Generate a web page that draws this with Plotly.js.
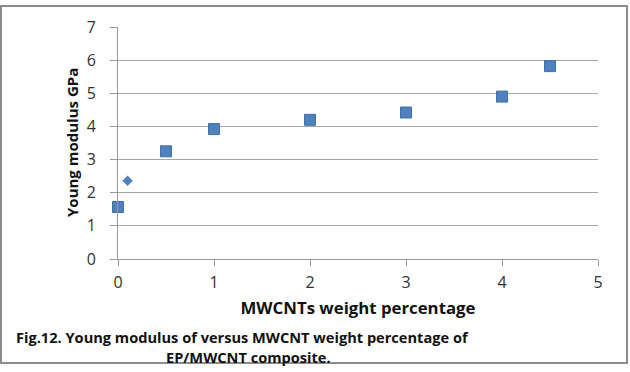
<!DOCTYPE html>
<html>
<head>
<meta charset="utf-8">
<script src="https://cdn.plot.ly/plotly-3.0.1.min.js"></script>
<style>
html,body{margin:0;padding:0;background:#fff;}
#chart{width:630px;height:372px;}
</style>
</head>
<body>
<div id="chart"></div>
<script>
// Data
const squareX = [0, 0.5, 1, 2, 3, 4, 4.5];
const squareY = [1.57, 3.25, 3.92, 4.2, 4.42, 4.9, 5.82];
const diamondX = [0.1];
const diamondY = [2.36];
const xTicks = [0, 1, 2, 3, 4, 5];
const yTicks = [0, 1, 2, 3, 4, 5, 6, 7];
const xTitle = "MWCNTs weight percentage";
const yTitle = "Young modulus GPa";
const caption1 = "Fig.12. Young modulus of versus MWCNT weight percentage of";
const caption2 = "EP/MWCNT composite.";

const blue = "#4f81bd";
const traces = [
  {x: squareX, y: squareY, type: "scatter", mode: "markers",
   marker: {symbol: "square", size: 11, color: blue, line: {color: "#3f71ad", width: 1}},
   hoverinfo: "x+y", showlegend: false, cliponaxis: false},
  {x: diamondX, y: diamondY, type: "scatter", mode: "markers",
   marker: {symbol: "diamond", size: 8, color: blue},
   hoverinfo: "x+y", showlegend: false, cliponaxis: false}
];

const fam = "'Open Sans', Lato, sans-serif";
const tickFont = {family: fam, size: 16, color: "#333"};
const boldFont = (s) => ({family: fam, size: s, color: "#111", weight: "bold"});
const layout = {
  width: 630, height: 372,
  margin: {l: 118, r: 32, t: 27, b: 113},
  paper_bgcolor: "#fff", plot_bgcolor: "#fff",
  font: {family: fam},
  xaxis: {
    range: [0, 5], tickvals: xTicks, ticktext: xTicks.map(String),
    showgrid: false, zeroline: false,
    showline: true, linecolor: "#9a9a9a", linewidth: 1,
    ticks: "outside", ticklen: 6, tickcolor: "#9a9a9a",
    tickfont: tickFont, ticklabelstandoff: 3,
    title: {text: xTitle, font: boldFont(16.8), standoff: 10}
  },
  yaxis: {
    range: [0, 7], tickvals: yTicks, ticktext: yTicks.map(String),
    showgrid: true, gridcolor: "#a6a6a6", gridwidth: 1,
    zeroline: false,
    showline: true, linecolor: "#9a9a9a", linewidth: 1,
    ticks: "outside", ticklen: 7, tickcolor: "#9a9a9a",
    tickfont: tickFont, ticklabelstandoff: 11
  },
  shapes: [
    {type: "rect", xref: "paper", yref: "paper",
     x0: (1 - 118) / 480, x1: (627 - 118) / 480,
     y0: (259 - 363) / 232, y1: (259 - 6) / 232,
     line: {color: "#8c8c8c", width: 2}, fillcolor: "rgba(0,0,0,0)", layer: "below"}
  ],
  annotations: [
    {text: yTitle, xref: "paper", yref: "paper", textangle: -90,
     x: (72 - 118) / 480, y: 0.5, xanchor: "center", yanchor: "middle",
     showarrow: false, font: boldFont(15)},
    {text: caption1, xref: "paper", yref: "paper",
     x: (14 - 118) / 480, y: (259 - 337) / 232, xanchor: "left", yanchor: "middle",
     showarrow: false, font: boldFont(14.6)},
    {text: caption2, xref: "paper", yref: "paper",
     x: (248 - 118) / 480, y: (259 - 357) / 232, xanchor: "center", yanchor: "middle",
     showarrow: false, font: boldFont(14.6)}
  ]
};

Plotly.newPlot("chart", traces, layout, {displayModeBar: false, staticPlot: true});
</script>
</body>
</html>
